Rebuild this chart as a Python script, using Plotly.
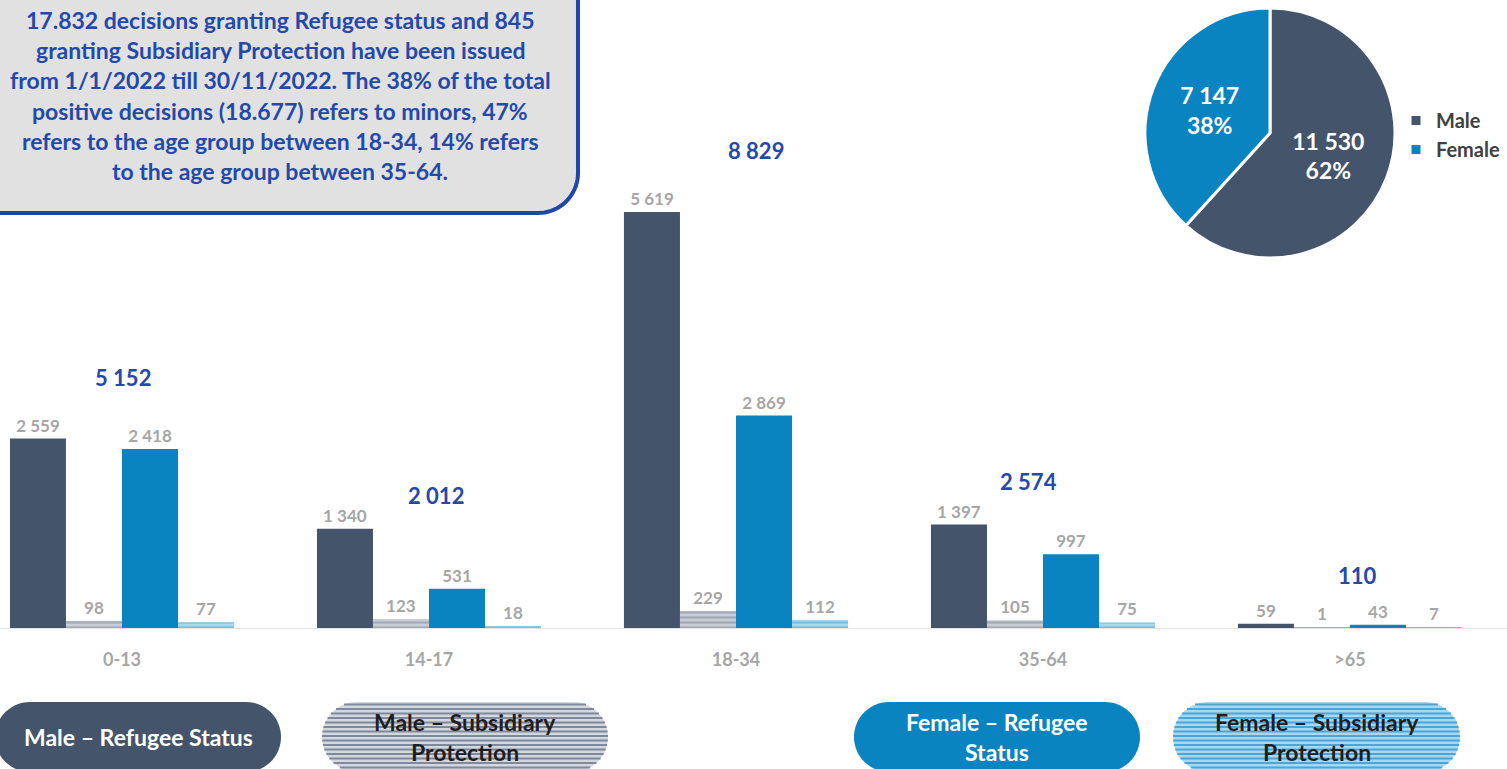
import numpy as np
import plotly.graph_objects as go

W, H = 1507, 769

# ---------------- data ----------------
age_groups = ["0-13", "14-17", "18-34", "35-64", ">65"]
male_refugee = [2559, 1340, 5619, 1397, 59]
male_subsidiary = [98, 123, 229, 105, 1]
female_refugee = [2418, 531, 2869, 997, 43]
female_subsidiary = [77, 18, 112, 75, 7]
group_totals = [5152, 2012, 8829, 2574, 110]

pie_labels = ["Male", "Female"]
pie_values = [11530, 7147]

intro_lines = [
    "17.832 decisions granting Refugee status and 845",
    "granting Subsidiary Protection have been issued",
    "from 1/1/2022 till 30/11/2022. The 38% of the total",
    "positive decisions (18.677) refers to minors, 47%",
    "refers to the age group between 18-34, 14% refers",
    "to the age group between 35-64.",
]

series_names = ["Male – Refugee Status", "Male – Subsidiary Protection",
                "Female – Refugee Status", "Female – Subsidiary Protection"]
pill_lines = [["Male – Refugee Status"], ["Male – Subsidiary", "Protection"],
              ["Female – Refugee", "Status"], ["Female – Subsidiary", "Protection"]]

# ---------------- layout helpers (positions / styles) ----------------
FONT = "Lato, 'Open Sans', sans-serif"
C_MALE = "#44546a"
C_FEMALE = "#0a84c1"
C_MSP_BG, C_MSP_FG = "#c8cdd6", "#7e899c"
C_FSP_BG, C_FSP_FG = "#a8d8ef", "#4aa6d8"
C_GRAY = "#a6a6a6"
C_BLUE = "#2349a9"

total_label_y = [3390, 1785, 6455, 1985, 715]
total_label_dx = [1, 7, 20, -15, 7]


def fmt(v):
    return f"{v:,}".replace(",", " ")


def X(px):
    return px / W


def Y(py):
    return 1 - py / H


def path_from(points):
    return "M" + "L".join(f"{X(x):.5f},{Y(y):.5f}" for x, y in points) + "Z"


def stadium(x0, x1, yc, r, n=30):
    pts = []
    for a in np.linspace(-np.pi / 2, np.pi / 2, n):
        pts.append((x1 - r + r * np.cos(a), yc + r * np.sin(a)))
    for a in np.linspace(np.pi / 2, 3 * np.pi / 2, n):
        pts.append((x0 + r + r * np.cos(a), yc + r * np.sin(a)))
    return pts


fig = go.Figure()

# ---------------- bars ----------------
styles = [
    dict(color=C_MALE),
    dict(color=C_MSP_BG, pattern=dict(shape="-", fgcolor=C_MSP_FG, bgcolor=C_MSP_BG, size=5, solidity=0.45)),
    dict(color=C_FEMALE),
    dict(color=C_FSP_BG, pattern=dict(shape="-", fgcolor=C_FSP_FG, bgcolor=C_FSP_BG, size=5, solidity=0.45)),
]
for name, vals, st in zip(series_names,
                          [male_refugee, male_subsidiary, female_refugee, female_subsidiary],
                          styles):
    fig.add_trace(go.Bar(
        x=age_groups, y=vals, name=name, showlegend=False,
        marker=dict(line=dict(width=0), **st),
        text=[fmt(v) for v in vals], texttemplate="%{text}",
        textposition="outside", cliponaxis=False, constraintext="none",
        textfont=dict(family=FONT, size=17, color=C_GRAY, weight="bold"),
        hoverinfo="skip",
    ))

# ---------------- pie ----------------
fig.add_trace(go.Pie(
    labels=pie_labels, values=pie_values, text=[fmt(v) for v in pie_values],
    texttemplate="%{text}<br>%{percent:.0%}", textposition="inside",
    insidetextorientation="horizontal",
    sort=False, direction="clockwise", rotation=0,
    marker=dict(colors=[C_MALE, C_FEMALE], line=dict(color="white", width=3)),
    textfont=dict(family=FONT, size=23, color="white", weight="bold"),
    domain=dict(x=[X(1145), X(1395)], y=[Y(258), Y(8)]),
    showlegend=True, hoverinfo="skip",
))

annotations = []
shapes = []

# totals above groups
for i, (cat, tot) in enumerate(zip(age_groups, group_totals)):
    annotations.append(dict(
        x=cat, y=total_label_y[i], xref="x", yref="y", text=fmt(tot), showarrow=False,
        xshift=total_label_dx[i], yanchor="middle",
        font=dict(family=FONT, size=22, color=C_BLUE, weight="bold"),
    ))

# intro text box
box = [(-10, -10), (578, -10), (578, 173)]
for a in np.linspace(0, np.pi / 2, 20):
    box.append((538 + 40 * np.cos(a), 173 + 40 * np.sin(a)))
box += [(-10, 213)]
shapes.append(dict(type="path", xref="paper", yref="paper", path=path_from(box),
                   fillcolor="#e1e1e1", line=dict(color="#1f47a8", width=4), layer="below"))
for k, line in enumerate(intro_lines):
    annotations.append(dict(
        x=X(280), y=Y(20 + 30.2 * k), xref="paper", yref="paper", text=line, showarrow=False,
        xanchor="center", yanchor="middle",
        font=dict(family=FONT, size=23, color=C_BLUE, weight="bold"),
    ))

# legend pills
pill_x = [(-5, 281), (322, 608), (854, 1140), (1173, 1460)]
pill_fill = [C_MALE, "#d3d7de", C_FEMALE, C_FSP_BG]
pill_stripe = [None, C_MSP_FG, None, C_FSP_FG]
pill_text = ["white", "#1e1e1e", "white", "#1e1e1e"]
yc, r = 737, 35
for (x0, x1), fill, stripe, tcol, lines in zip(pill_x, pill_fill, pill_stripe, pill_text, pill_lines):
    shapes.append(dict(type="path", xref="paper", yref="paper", path=path_from(stadium(x0, x1, yc, r)),
                       fillcolor=fill, line=dict(width=0)))
    if stripe:
        for py in np.arange(yc - r + 2.5, yc + r, 4.5):
            dy = py - yc
            h = np.sqrt(max(r * r - dy * dy, 0))
            shapes.append(dict(type="line", xref="paper", yref="paper",
                               x0=X(x0 + r - h), x1=X(x1 - r + h), y0=Y(py), y1=Y(py),
                               line=dict(color=stripe, width=2)))
    n = len(lines)
    for k, t in enumerate(lines):
        ypx = yc + (k - (n - 1) / 2) * 30
        annotations.append(dict(
            x=X((x0 + x1) / 2), y=Y(ypx), xref="paper", yref="paper", text=t, showarrow=False,
            xanchor="center", yanchor="middle",
            font=dict(family=FONT, size=23, color=tcol, weight="bold"),
        ))

scale = 416 / 5619  # px per unit
fig.update_layout(
    width=W, height=H, margin=dict(l=0, r=0, t=0, b=0),
    paper_bgcolor="white", plot_bgcolor="rgba(0,0,0,0)",
    barmode="group", bargap=0.27, bargroupgap=0,
    hovermode=False,
    xaxis=dict(type="category", range=[-122 / 307, (W - 122) / 307], domain=[0, 1],
               showgrid=False, zeroline=False, showline=True, linecolor="#e4e4e4", linewidth=1,
               ticks="", ticklabelstandoff=15,
               tickfont=dict(family=FONT, size=18, color=C_GRAY, weight="bold"), fixedrange=True),
    yaxis=dict(domain=[Y(628), 1], range=[0, 628 / scale], visible=False, fixedrange=True),
    legend=dict(x=X(1396), y=Y(101), xanchor="left", yanchor="top",
                font=dict(family=FONT, size=20, color="#404040", weight="bold"),
                bgcolor="rgba(0,0,0,0)", itemclick=False, itemdoubleclick=False),
    shapes=shapes, annotations=annotations,
    font=dict(family=FONT),
)

fig.write_html("out.html", config={"displayModeBar": False},
               post_script="document.body.style.margin='0';document.body.style.overflow='hidden';")
